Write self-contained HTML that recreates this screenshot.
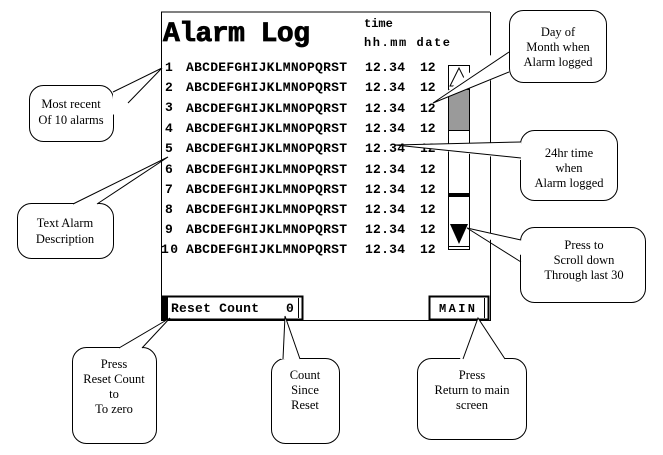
<!DOCTYPE html>
<html><head><meta charset="utf-8"><style>
body{margin:0;background:#fff}
svg{display:block}
.m{font-family:"Liberation Mono",monospace;font-weight:bold;fill:#000}
.s{font-family:"Liberation Serif",serif;font-size:12.5px;fill:#000;text-anchor:middle}
</style></head><body>
<svg width="663" height="455" viewBox="0 0 663 455" xmlns="http://www.w3.org/2000/svg">
<rect x="0" y="0" width="663" height="455" fill="#fff"/>
<line x1="161" y1="12" x2="490" y2="12" stroke="#000"/>
<line x1="161.5" y1="12" x2="161.5" y2="321" stroke="#000"/>
<line x1="490.5" y1="12" x2="490.5" y2="321" stroke="#000"/>
<line x1="161" y1="320.5" x2="491" y2="320.5" stroke="#000"/>
<text x="163" y="41" font-size="28" textLength="147" font-family="Liberation Mono, monospace" font-weight="bold" stroke="#000" stroke-width="0.8">Alarm Log</text>
<text class="m" x="364" y="27" font-size="12">time</text>
<text class="m" x="364" y="46" font-size="12" textLength="86">hh.mm date</text>
<g class="m" font-size="13">
<text x="165" y="71">1</text><text x="186" y="71" textLength="161">ABCDEFGHIJKLMNOPQRST</text><text x="365" y="71" textLength="40">12.34</text><text x="420" y="71">12</text>
<text x="165" y="91">2</text><text x="186" y="91" textLength="161">ABCDEFGHIJKLMNOPQRST</text><text x="365" y="91" textLength="40">12.34</text><text x="420" y="91">12</text>
<text x="165" y="111">3</text><text x="186" y="112" textLength="161">ABCDEFGHIJKLMNOPQRST</text><text x="365" y="112" textLength="40">12.34</text><text x="420" y="112">12</text>
<text x="165" y="132">4</text><text x="186" y="132" textLength="161">ABCDEFGHIJKLMNOPQRST</text><text x="365" y="132" textLength="40">12.34</text><text x="420" y="132">12</text>
<text x="165" y="152">5</text><text x="186" y="152" textLength="161">ABCDEFGHIJKLMNOPQRST</text><text x="365" y="152" textLength="40">12.34</text><text x="420" y="152">12</text>
<text x="165" y="173">6</text><text x="186" y="173" textLength="161">ABCDEFGHIJKLMNOPQRST</text><text x="365" y="173" textLength="40">12.34</text><text x="420" y="173">12</text>
<text x="165" y="193">7</text><text x="186" y="193" textLength="161">ABCDEFGHIJKLMNOPQRST</text><text x="365" y="193" textLength="40">12.34</text><text x="420" y="193">12</text>
<text x="165" y="213">8</text><text x="186" y="213" textLength="161">ABCDEFGHIJKLMNOPQRST</text><text x="365" y="213" textLength="40">12.34</text><text x="420" y="213">12</text>
<text x="165" y="233">9</text><text x="186" y="233" textLength="161">ABCDEFGHIJKLMNOPQRST</text><text x="365" y="233" textLength="40">12.34</text><text x="420" y="233">12</text>
<text x="161" y="253" textLength="17">10</text><text x="186" y="253" textLength="161">ABCDEFGHIJKLMNOPQRST</text><text x="365" y="253" textLength="40">12.34</text><text x="420" y="253">12</text>
</g>
<rect x="448.5" y="65.5" width="21" height="184" fill="#fff" stroke="#000"/>
<polygon points="459,68 450,86 468,86" fill="#fff" stroke="#000"/>
<rect x="449" y="90" width="20" height="40" fill="#9a9a9a"/>
<line x1="448" y1="89.5" x2="470" y2="89.5" stroke="#000"/>
<line x1="448" y1="130.5" x2="470" y2="130.5" stroke="#000"/>
<rect x="448" y="193" width="22" height="4" fill="#000"/>
<polygon points="450,224 468,224 459,244" fill="#000"/>
<line x1="448" y1="246.5" x2="470" y2="246.5" stroke="#000"/>
<rect x="162.5" y="296.5" width="140" height="23" fill="#fff" stroke="#000" stroke-width="2"/>
<rect x="162" y="296" width="6" height="24" fill="#000"/>
<line x1="298.5" y1="298" x2="298.5" y2="318" stroke="#000"/>
<text class="m" x="171" y="312" font-size="13" textLength="88">Reset Count</text>
<text class="m" x="286" y="312" font-size="13">0</text>
<rect x="429.5" y="296.5" width="59" height="23" fill="#fff" stroke="#000" stroke-width="2"/>
<line x1="484.5" y1="298" x2="484.5" y2="318" stroke="#000"/>
<text class="m" x="439" y="312" font-size="12" textLength="36">MAIN</text>
<g stroke="#000" fill="#fff" stroke-width="1">
<rect x="29.5" y="85.5" width="84" height="56" rx="14"/>
<rect x="17.5" y="203.5" width="96" height="55" rx="14"/>
<rect x="509.5" y="10.5" width="97" height="72" rx="14"/>
<rect x="520.5" y="130.5" width="97" height="70" rx="14"/>
<rect x="520.5" y="227.5" width="125" height="75" rx="14"/>
<rect x="72.5" y="347.5" width="84" height="96" rx="14"/>
<rect x="271.5" y="358.5" width="68" height="85" rx="14"/>
<rect x="417.5" y="358.5" width="109" height="81" rx="14"/>
</g>
<g fill="#fff" stroke="none">
<polygon points="113,94 162,68 113,115"/>
<polygon points="73,204 168,157 97,204"/>
<polygon points="509,40 433,103 509,73"/>
<polygon points="521,142 395,145 521,160"/>
<polygon points="521,240 467,228 521,255"/>
<polygon points="119,348 170,318 142,348"/>
<polygon points="281,359 285,316 300,359"/>
<polygon points="460,359 478,318 505,359"/>
</g>
<g stroke="#000" fill="none">
<path d="M113,92 L162,68 L128,103"/>
<path d="M73,204 L168,157 L97,204"/>
<path d="M509,52 L433,103 L509,72"/>
<path d="M521,142 L395,145 L521,158"/>
<path d="M521,240 L467,228 L521,262"/>
<path d="M119,348 L170,318 L142,348"/>
<path d="M283,359 L285,316 L300,359"/>
<path d="M463,359 L478,318 L505,359"/>
</g>
<g class="s">
<text x="71" y="108">Most recent</text><text x="71" y="124">Of 10 alarms</text>
<text x="65" y="227">Text Alarm</text><text x="65" y="243">Description</text>
<text x="558" y="36">Day of</text><text x="558" y="51">Month when</text><text x="558" y="66">Alarm logged</text>
<text x="569" y="157">24hr time</text><text x="569" y="172">when</text><text x="569" y="187">Alarm logged</text>
<text x="584" y="249">Press to</text><text x="584" y="264">Scroll down</text><text x="584" y="279">Through last 30</text>
<text x="114" y="368">Press</text><text x="114" y="383">Reset Count</text><text x="114" y="398">to</text><text x="114" y="413">To zero</text>
<text x="305" y="379">Count</text><text x="305" y="394">Since</text><text x="305" y="409">Reset</text>
<text x="472" y="379">Press</text><text x="472" y="394">Return to main</text><text x="472" y="409">screen</text>
</g>
</svg>
</body></html>
